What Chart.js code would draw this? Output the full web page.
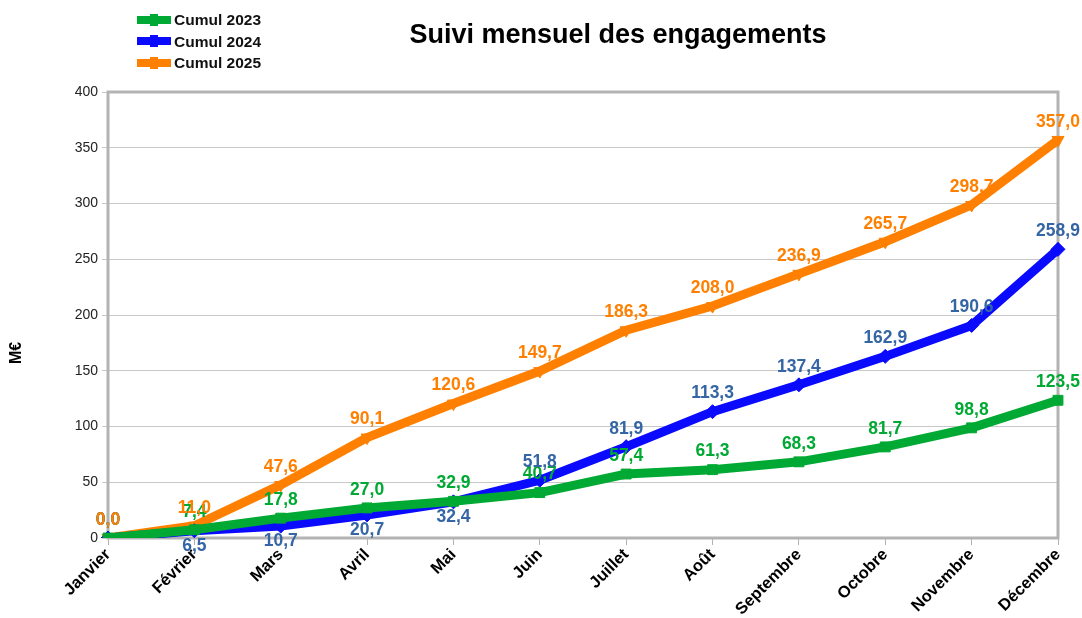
<!DOCTYPE html>
<html>
<head>
<meta charset="utf-8">
<script src="https://cdn.jsdelivr.net/npm/chart.js@4"></script>
<style>
  body { margin: 0; background: #fff; font-family: "Liberation Sans", Arial, sans-serif; }
  #wrap { position: relative; width: 1082px; height: 618px; }
  #title { position: absolute; left: 0; width: 1236px; top: 19px; text-align: center;
           font-size: 27px; font-weight: bold; color: #000; }
  #legend { position: absolute; left: 137px; top: 9px; font-size: 15.5px; font-weight: bold; color: #111; }
  .item { height: 21.5px; line-height: 21.5px; white-space: nowrap; }
  .sw { display: inline-block; width: 34px; height: 8px; vertical-align: middle; margin-right: 3px; position: relative; top: -1px; }
  .mk { position: absolute; left: 13px; top: -2px; width: 8px; height: 12px; }
</style>
</head>
<body>
<div id="wrap">
  <canvas id="chart" width="1082" height="618"></canvas>
  <div id="title">Suivi mensuel des engagements</div>
  <div id="legend"></div>
</div>
<script>
months = ['Janvier', 'Février', 'Mars', 'Avril', 'Mai', 'Juin', 'Juillet', 'Août', 'Septembre', 'Octobre', 'Novembre', 'Décembre'];
cumul2023 = [0.0, 7.4, 17.8, 27.0, 32.9, 40.7, 57.4, 61.3, 68.3, 81.7, 98.8, 123.5];
cumul2024 = [0.0, 6.5, 10.7, 20.7, 32.4, 51.8, 81.9, 113.3, 137.4, 162.9, 190.6, 258.9];
cumul2025 = [0.0, 11.0, 47.6, 90.1, 120.6, 149.7, 186.3, 208.0, 236.9, 265.7, 298.7, 357.0];
yTicks = [0, 50, 100, 150, 200, 250, 300, 350, 400];

const series = [
    { label: 'Cumul 2023', data: cumul2023, color: '#00a933', text: '#00a933', style: 'rect', rot: 0, below: [] },
    { label: 'Cumul 2024', data: cumul2024, color: '#0a0aff', text: '#3465a4', style: 'rectRot', rot: 0, below: [1, 2, 3, 4] },
    { label: 'Cumul 2025', data: cumul2025, color: '#ff8000', text: '#ff8000', style: 'triangle', rot: 180, below: [] }
];

// legend as html
const leg = document.getElementById('legend');
series.forEach(s => {
    const d = document.createElement('div');
    d.className = 'item';
    d.innerHTML = '<span class="sw" style="background:' + s.color + '"><span class="mk" style="background:' + s.color + '"></span></span>' + s.label;
    leg.appendChild(d);
});

// value labels above / below each point
const valueLabels = {
    id: 'valueLabels',
    afterDatasetsDraw(chart) {
        const ctx = chart.ctx;
        ctx.save();
        ctx.font = 'bold 17.5px "Liberation Sans", Arial, sans-serif';
        ctx.textAlign = 'center';
        ctx.textBaseline = 'middle';
        chart.data.datasets.forEach((ds, i) => {
            const s = series[i];
            chart.getDatasetMeta(i).data.forEach((pt, j) => {
                const below = s.below.indexOf(j) >= 0;
                ctx.fillStyle = s.text;
                ctx.fillText(ds.data[j].toFixed(1).replace('.', ','), pt.x, pt.y + (below ? 15 : -18));
            });
        });
        ctx.restore();
    }
};

// grey frame round the plot + y axis title
const frame = {
    id: 'frame',
    beforeDatasetsDraw(chart) {
        const a = chart.chartArea, ctx = chart.ctx;
        ctx.save();
        ctx.strokeStyle = '#b3b3b3';
        ctx.lineWidth = 3;
        ctx.strokeRect(a.left, a.top, a.right - a.left, a.bottom - a.top);
        ctx.translate(17, 353);
        ctx.rotate(-Math.PI / 2);
        ctx.fillStyle = '#000';
        ctx.font = 'bold 16px "Liberation Sans", Arial, sans-serif';
        ctx.textAlign = 'center';
        ctx.textBaseline = 'middle';
        ctx.fillText('M€', 0, 0);
        ctx.restore();
    }
};

Chart.defaults.font.family = '"Liberation Sans", Arial, sans-serif';

c = new Chart(document.getElementById('chart'), {
    type: 'line',
    data: {
        labels: months,
        datasets: series.map(s => ({
            label: s.label,
            data: s.data,
            borderColor: s.color,
            backgroundColor: s.color,
            borderWidth: 9,
            pointStyle: s.style,
            rotation: s.rot,
            pointRadius: 7,
            pointBorderWidth: 1,
            tension: 0,
            fill: false
        }))
    },
    options: {
        responsive: false,
        animation: false,
        layout: { padding: { top: 92, right: 24, left: 0, bottom: 0 } },
        plugins: { legend: { display: false }, title: { display: false }, tooltip: { enabled: false } },
        scales: {
            x: {
                offset: false,
                grid: { display: true, drawOnChartArea: false, tickLength: 7, color: '#b3b3b3', lineWidth: 1 },
                border: { display: false },
                ticks: { maxRotation: 45, minRotation: 45, color: '#000', font: { size: 16.5, weight: 'bold' }, padding: 0 },
                afterFit(scale) { scale.height = 80; }
            },
            y: {
                min: 0, max: 400,
                afterBuildTicks(scale) { scale.ticks = yTicks.map(v => ({ value: v })); },
                grid: { color: '#c8c8c8', lineWidth: 1, tickLength: 6 },
                border: { display: false },
                ticks: { color: '#222', font: { size: 14 }, padding: 4 },
                afterFit(scale) { scale.width = 108; }
            }
        }
    },
    plugins: [frame, valueLabels]
});
</script>
</body>
</html>
